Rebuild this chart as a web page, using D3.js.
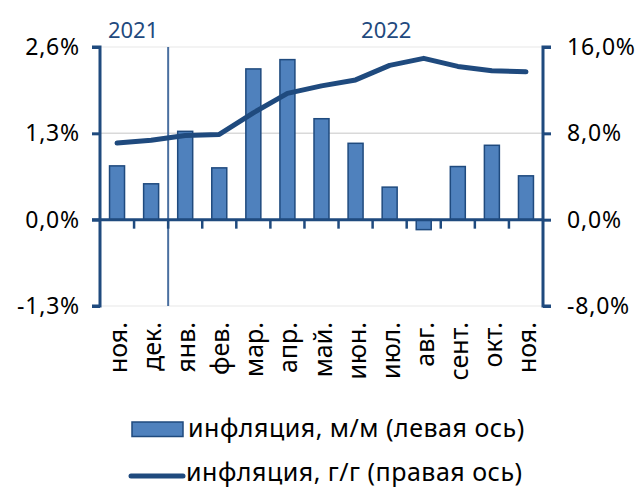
<!DOCTYPE html>
<html lang="ru">
<head>
<meta charset="UTF-8">
<title>Инфляция</title>
<script src="https://d3js.org/d3.v7.min.js"></script>
<style>
  body { margin: 0; background: #fff; }
  text { font-family: "Noto Sans", "Open Sans", sans-serif; }
</style>
</head>
<body>
<script>
// data
const months = ["ноя.", "дек.", "янв.", "фев.", "мар.", "апр.", "май.", "июн.", "июл.", "авг.", "сент.", "окт.", "ноя."];
const mom = [0.81, 0.54, 1.33, 0.78, 2.27, 2.41, 1.52, 1.15, 0.49, -0.15, 0.80, 1.12, 0.66];
const yoy = [7.1, 7.35, 7.8, 7.9, 9.9, 11.7, 12.4, 12.95, 14.3, 14.95, 14.2, 13.8, 13.7];
const leftTicks = [2.6, 1.3, 0, -1.3];
const rightTicks = [16, 8, 0, -8];
// year label, first month index, label centre (in month steps)
const years = [{label: "2021", from: 0, at: 0.97}, {label: "2022", from: 2, at: 8.4}];

const W = 640, H = 487;
const axisCol = "#1f4a7e", barCol = "#4f81bd";
const svg = d3.select("body").append("svg").attr("width", W).attr("height", H);

const x = d3.scaleBand().domain(d3.range(months.length)).range([100, 543]).paddingInner(0.56).paddingOuter(0.28);
const step = x.step();
const x0 = 100;
const yL = d3.scaleLinear().domain([-1.3, 2.6]).range([306, 47]);
const yR = d3.scaleLinear().domain([-8, 16]).range([306, 47]);
const fmt = v => d3.format(".1f")(v).replace(".", ",").replace("−", "-") + "%";

// gridlines
svg.append("g").selectAll("line").data(leftTicks.filter(d => d !== 0)).join("line")
  .attr("x1", x0).attr("x2", 543).attr("y1", d => yL(d)).attr("y2", d => yL(d))
  .attr("stroke", d => d === 1.3 ? "#d9d9d9" : "#efefef").attr("stroke-width", 1.5);

// year separator
svg.append("line").attr("x1", x0 + 2 * step).attr("x2", x0 + 2 * step)
  .attr("y1", 47).attr("y2", 306).attr("stroke", "#4a6fa0").attr("stroke-width", 2);

// bars
svg.append("g").selectAll("rect").data(mom).join("rect")
  .attr("x", (d, i) => x(i)).attr("width", x.bandwidth())
  .attr("y", d => Math.min(yL(d), yL(0))).attr("height", d => Math.abs(yL(d) - yL(0)))
  .attr("fill", barCol).attr("stroke", axisCol).attr("stroke-width", 1.5);

// zero axis and category ticks
svg.append("line").attr("x1", 92).attr("x2", 543).attr("y1", yL(0)).attr("y2", yL(0))
  .attr("stroke", axisCol).attr("stroke-width", 3);
svg.append("g").selectAll("line").data(d3.range(1, months.length)).join("line")
  .attr("x1", i => x0 + i * step).attr("x2", i => x0 + i * step)
  .attr("y1", yL(0)).attr("y2", yL(0) + 9)
  .attr("stroke", axisCol).attr("stroke-width", 2.5);

// line series
svg.append("path").datum(yoy)
  .attr("d", d3.line().x((d, i) => x(i) + x.bandwidth() / 2).y(d => yR(d)))
  .attr("fill", "none").attr("stroke", axisCol).attr("stroke-width", 5)
  .attr("stroke-linecap", "round").attr("stroke-linejoin", "round");

// left axis
const gl = svg.append("g").attr("transform", `translate(${x0},0)`)
  .call(d3.axisLeft(yL).tickValues(leftTicks).tickSize(8).tickPadding(12).tickFormat(fmt));
// right axis
const gr = svg.append("g").attr("transform", "translate(543,0)")
  .call(d3.axisRight(yR).tickValues(rightTicks).tickSize(8).tickPadding(16).tickFormat(fmt));
[gl, gr].forEach(g => {
  g.select(".domain").attr("stroke", axisCol).attr("stroke-width", 3)
    .attr("d", g === gl ? "M-8,47H0V306H-8" : "M8,47H0V306H8");
  g.selectAll(".tick line").attr("stroke", axisCol).attr("stroke-width", 3);
  g.selectAll(".tick text").attr("fill", "#000").attr("font-size", 23)
    .attr("letter-spacing", 0.8).attr("font-family", "Noto Sans, sans-serif");
});

// month labels
svg.append("g").selectAll("text").data(months).join("text")
  .attr("transform", (d, i) => `translate(${x(i) + x.bandwidth() / 2 + 10},322) rotate(-90)`)
  .attr("text-anchor", "end").attr("font-size", 25).attr("fill", "#000").text(d => d);

// years
svg.append("g").selectAll("text").data(years).join("text")
  .attr("x", d => x0 + d.at * step)
  .attr("y", 38).attr("text-anchor", "middle").attr("font-size", 22).attr("fill", axisCol)
  .text(d => d.label);

// legend
const lg = svg.append("g");
lg.append("rect").attr("x", 132).attr("y", 422).attr("width", 51).attr("height", 14.5)
  .attr("fill", barCol).attr("stroke", axisCol).attr("stroke-width", 1.5);
lg.append("text").attr("x", 188).attr("y", 437).attr("font-size", 25).attr("letter-spacing", 0.5)
  .text("инфляция, м/м (левая ось)");
lg.append("line").attr("x1", 131).attr("x2", 183).attr("y1", 476).attr("y2", 476)
  .attr("stroke", axisCol).attr("stroke-width", 5).attr("stroke-linecap", "round");
lg.append("text").attr("x", 186).attr("y", 481).attr("font-size", 25).attr("letter-spacing", 0.5)
  .text("инфляция, г/г (правая ось)");
</script>
</body>
</html>
